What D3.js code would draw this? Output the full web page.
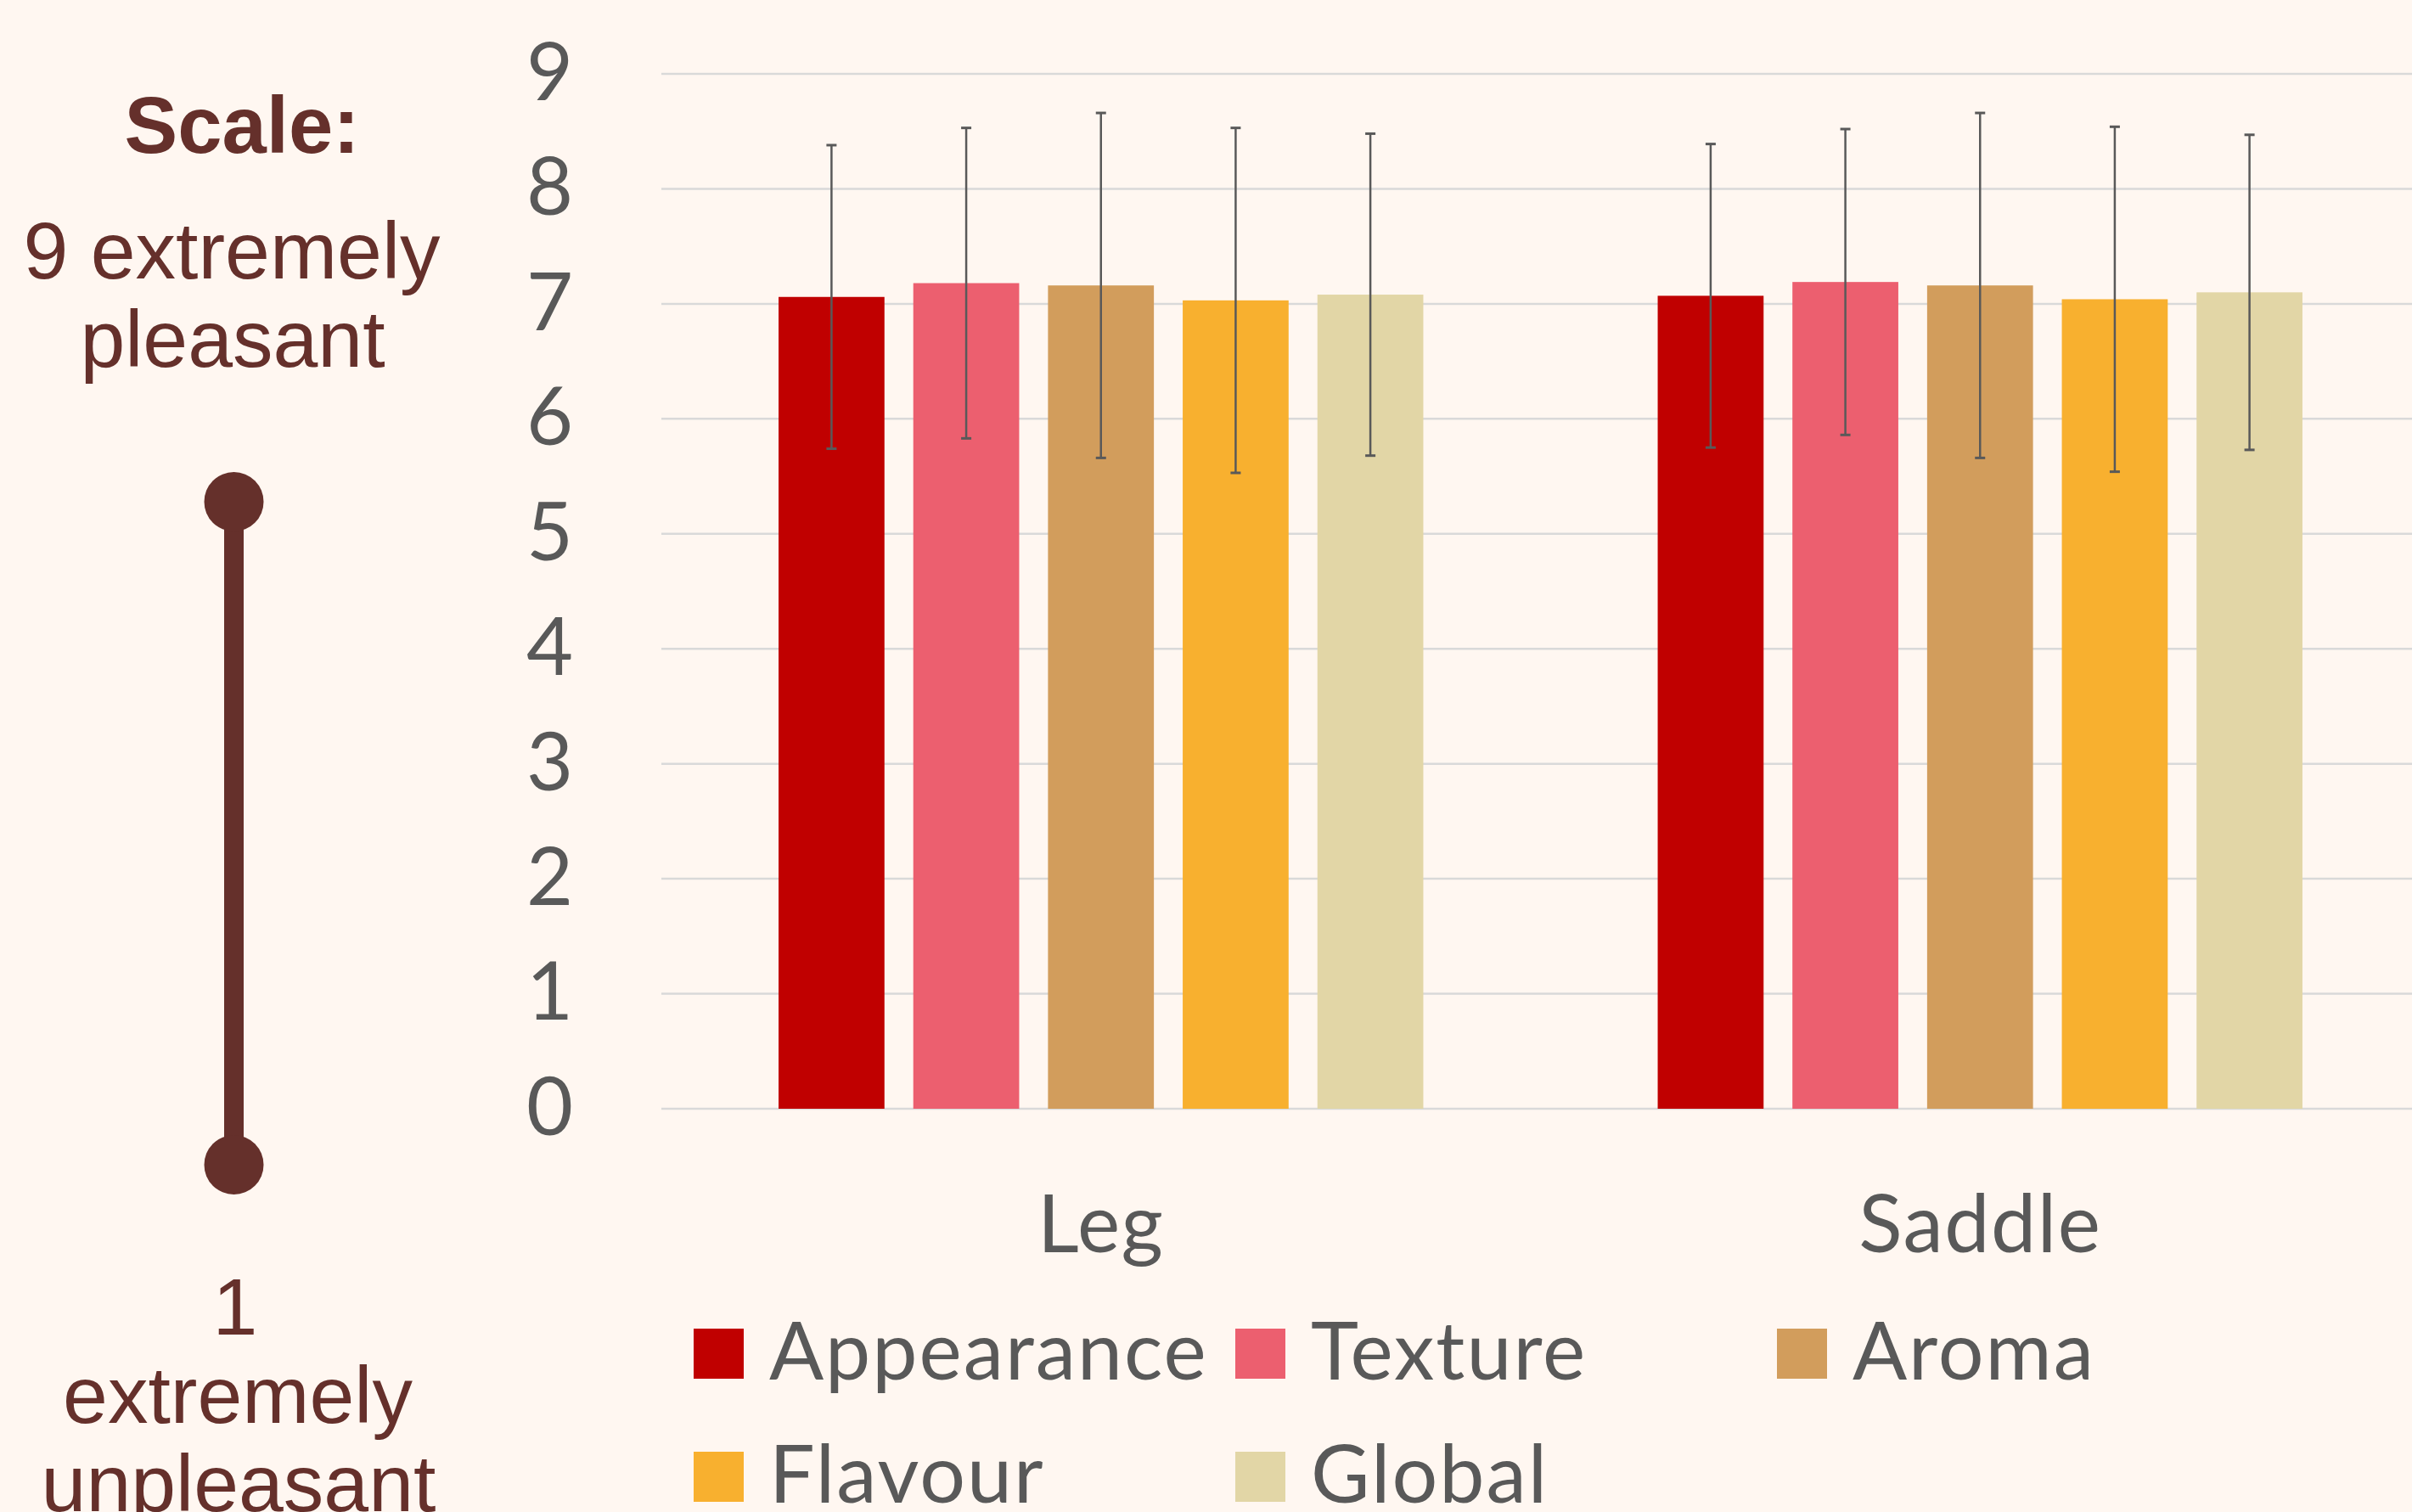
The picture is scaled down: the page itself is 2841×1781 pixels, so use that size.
<!DOCTYPE html>
<html>
<head>
<meta charset="utf-8">
<script src="https://cdn.jsdelivr.net/npm/d3@7"></script>
<style>
  html, body { margin: 0; padding: 0; background: #FFF7F1; overflow: hidden; }
</style>
</head>
<body>
<script>
// chart data
var categories = ["Leg", "Saddle"];
var series = ["Appearance", "Texture", "Aroma", "Flavour", "Global"];
var colors = ["#C00000", "#EC5F6F", "#D29D5C", "#F8B02F", "#E2D6A6"];
// mean scores per category, one entry per series
var legMeans = [7.06, 7.18, 7.16, 7.03, 7.08];
var saddleMeans = [7.07, 7.19, 7.16, 7.04, 7.10];
// standard deviations (error bars)
var legSD = [1.32, 1.35, 1.50, 1.50, 1.40];
var saddleSD = [1.32, 1.33, 1.50, 1.50, 1.37];
var yTicks = [0, 1, 2, 3, 4, 5, 6, 7, 8, 9];

var svgWidth = 2841;
var svgHeight = 1781;

var svg = d3.select("body")
  .append("svg")
  .attr("width", svgWidth)
  .attr("height", svgHeight);

svg.append("rect")
  .attr("width", svgWidth)
  .attr("height", svgHeight)
  .attr("fill", "#FFF7F1");

// build rows for the bars
var rows = [];
categories.forEach(function(c, ci) {
  var means = ci === 0 ? legMeans : saddleMeans;
  var sds = ci === 0 ? legSD : saddleSD;
  series.forEach(function(s, si) {
    rows.push({ category: c, series: s, value: means[si], sd: sds[si], color: colors[si] });
  });
});

// scales
var plotLeft = 779, plotRight = 2850, plotTop = 87, plotBottom = 1306;

var x0 = d3.scaleBand()
  .domain(categories)
  .range([plotLeft, plotRight]);

var x1 = d3.scaleBand()
  .domain(series)
  .range([0, x0.bandwidth()])
  .paddingInner(0.214)
  .paddingOuter(0.87);

var y = d3.scaleLinear()
  .domain([0, 9])
  .range([plotBottom, plotTop]);

// gridlines
svg.append("g")
  .selectAll("line")
  .data(yTicks)
  .enter()
  .append("line")
  .attr("x1", plotLeft)
  .attr("x2", svgWidth)
  .attr("y1", d => y(d))
  .attr("y2", d => y(d))
  .attr("stroke", "#D9D9D9")
  .attr("stroke-width", 2.5);

// y axis labels
var yAxis = svg.append("g")
  .attr("transform", `translate(${plotLeft}, 0)`)
  .call(d3.axisLeft(y).tickValues(yTicks).tickSize(0).tickPadding(104));
yAxis.select(".domain").remove();
yAxis.selectAll("text")
  .attr("font-family", "Lato")
  .attr("font-size", 95)
  .attr("fill", "#595959");

// category labels
var xAxis = svg.append("g")
  .attr("transform", `translate(0, ${plotBottom})`)
  .call(d3.axisBottom(x0).tickSize(0).tickPadding(102));
xAxis.select(".domain").remove();
xAxis.selectAll("text")
  .attr("font-family", "Lato")
  .attr("font-size", 95)
  .attr("letter-spacing", 1.5)
  .attr("fill", "#595959");

// bars
svg.append("g")
  .selectAll("rect")
  .data(rows)
  .enter()
  .append("rect")
  .attr("x", d => x0(d.category) + x1(d.series))
  .attr("y", d => y(d.value))
  .attr("width", x1.bandwidth())
  .attr("height", d => y(0) - y(d.value))
  .attr("fill", d => d.color);

// error bars
var errGroup = svg.append("g")
  .attr("stroke", "#595959");

var errs = errGroup.selectAll("g")
  .data(rows)
  .enter()
  .append("g")
  .attr("transform", d => `translate(${x0(d.category) + x1(d.series) + x1.bandwidth() / 2}, 0)`);

errs.append("line")
  .attr("y1", d => y(d.value + d.sd))
  .attr("y2", d => y(d.value - d.sd))
  .attr("stroke-width", 2.5);

errs.append("line")
  .attr("x1", -6).attr("x2", 6)
  .attr("y1", d => y(d.value + d.sd))
  .attr("y2", d => y(d.value + d.sd))
  .attr("stroke-width", 3);

errs.append("line")
  .attr("x1", -6).attr("x2", 6)
  .attr("y1", d => y(d.value - d.sd))
  .attr("y2", d => y(d.value - d.sd))
  .attr("stroke-width", 3);

// legend
var legend = svg.append("g")
  .selectAll("g")
  .data(series)
  .enter()
  .append("g")
  .attr("transform", (d, i) => `translate(${817 + (i % 3) * 638}, ${1565 + Math.floor(i / 3) * 145})`);

legend.append("rect")
  .attr("width", 59)
  .attr("height", 59)
  .attr("fill", (d, i) => colors[i]);

legend.append("text")
  .attr("x", 89)
  .attr("y", 60)
  .attr("font-family", "Lato")
  .attr("font-size", 95)
  .attr("letter-spacing", 2)
  .attr("fill", "#595959")
  .text(d => d);

// scale explanation on the left
var brown = "#65302B";
var side = svg.append("g")
  .attr("fill", brown)
  .attr("font-family", "Liberation Sans, Arial, sans-serif")
  .attr("text-anchor", "middle");

side.append("text")
  .attr("x", 285).attr("y", 180)
  .attr("font-size", 94)
  .attr("font-weight", "bold")
  .text("Scale:");

side.append("text").attr("x", 273).attr("y", 328).attr("font-size", 95).text("9 extremely");
side.append("text").attr("x", 274).attr("y", 432).attr("font-size", 95).text("pleasant");

side.append("text").attr("x", 277).attr("y", 1572).attr("font-size", 95).text("1");
side.append("text").attr("x", 280).attr("y", 1676).attr("font-size", 95).text("extremely");
side.append("text").attr("x", 281).attr("y", 1780).attr("font-size", 95).text("unpleasant");

svg.append("line")
  .attr("x1", 275.5).attr("x2", 275.5)
  .attr("y1", 591).attr("y2", 1372)
  .attr("stroke", brown)
  .attr("stroke-width", 23);

svg.selectAll(".dot")
  .data([591, 1372])
  .enter()
  .append("circle")
  .attr("class", "dot")
  .attr("cx", 275.5)
  .attr("cy", d => d)
  .attr("r", 35)
  .attr("fill", brown);
</script>
</body>
</html>
